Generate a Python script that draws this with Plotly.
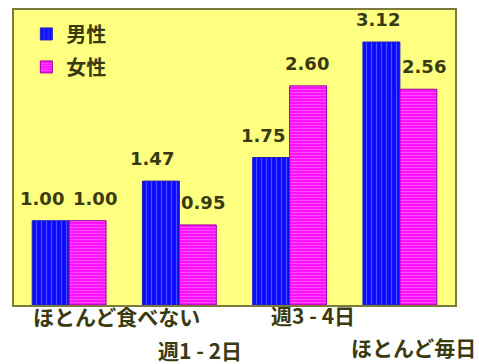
import plotly.graph_objects as go

categories = ["ほとんど食べない", "週1 - 2日", "週3 - 4日", "ほとんど毎日"]
male = [1.00, 1.47, 1.75, 3.12]
female = [1.00, 0.95, 2.60, 2.56]
series_names = ["男性", "女性"]

TXT = "#3a3a10"
fig = go.Figure()
fig.add_trace(go.Bar(
    x=categories, y=male, name=series_names[0], legendgroup="m",
    marker=dict(color="#0a0aff", line=dict(color="#2020c0", width=1),
                pattern=dict(shape="|", fgcolor="#9090ff", size=5, solidity=0.25)),
))
fig.add_trace(go.Bar(
    x=categories, y=female, name=series_names[1], legendgroup="f",
    marker=dict(color="#ff10ff", line=dict(color="#990099", width=1),
                pattern=dict(shape="-", fgcolor="#ff9cff", size=3, solidity=0.3)),
))

# value labels
male_shift = [-27, -27, -27, -22]
female_shift = [26, 24, 17, 24]
for i, c in enumerate(categories):
    fig.add_annotation(x=c, y=male[i], text=f"{male[i]:.2f}", showarrow=False,
                       xshift=male_shift[i], yanchor="bottom", yshift=10,
                       font=dict(family="DejaVu Sans", size=18, color=TXT, weight="bold"))
    fig.add_annotation(x=c, y=female[i], text=f"{female[i]:.2f}", showarrow=False,
                       xshift=female_shift[i], yanchor="bottom", yshift=10,
                       font=dict(family="DejaVu Sans", size=18, color=TXT, weight="bold"))

# staggered category labels
lab_xshift = [-38, -23, -21, -51]
lab_y = [-11, -45, -10, -42]
for i, c in enumerate(categories):
    fig.add_annotation(x=c, y=0, yref="y", text=c, showarrow=False,
                       xanchor="left", xshift=lab_xshift[i], yshift=lab_y[i], yanchor="middle",
                       font=dict(family="Noto Sans CJK JP", size=21, color=TXT, weight="bold"))

fig.update_layout(
    width=479, height=364,
    margin=dict(l=14, r=24, t=8, b=59),
    paper_bgcolor="white", plot_bgcolor="#ffff80",
    barmode="group", bargap=0.33, bargroupgap=0,
    showlegend=True,
    legend=dict(x=0.028, y=0.985, xanchor="left", yanchor="top", bgcolor="rgba(0,0,0,0)",
                traceorder="grouped", tracegroupgap=4,
                font=dict(family="Noto Sans CJK JP", size=20, color=TXT, weight="bold")),
    xaxis=dict(range=[-0.5, 3.5], showticklabels=False, showgrid=False, zeroline=False, ticks="",
               showline=True, linecolor="#7a7a3a", linewidth=2, mirror=True),
    yaxis=dict(range=[0, 3.5], showticklabels=False, showgrid=False, zeroline=False, ticks="",
               showline=True, linecolor="#7a7a3a", linewidth=2, mirror=True),
)
fig.write_html("out.html")
